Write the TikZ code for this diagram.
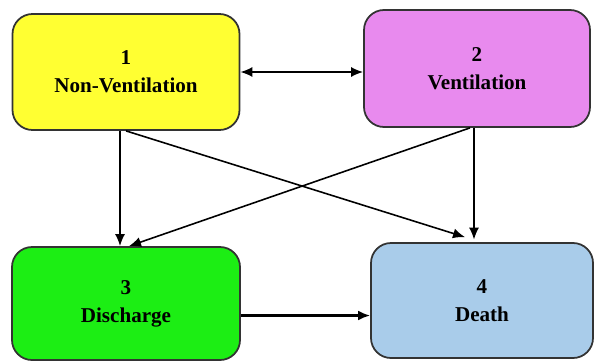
\documentclass[tikz,border=0pt]{standalone}
\usepackage{fontspec}
\setmainfont{Liberation Serif}
\usetikzlibrary{arrows.meta,calc}
\definecolor{boxyellow}{RGB}{255,255,50}
\definecolor{boxpink}{RGB}{232,138,238}
\definecolor{boxgreen}{RGB}{28,238,20}
\definecolor{boxblue}{RGB}{169,204,234}
\tikzset{
    statebox/.style={draw=black!80, line width=1pt, rounded corners=0.4cm, align=center,
        font=\fontsize{12}{16}\selectfont\bfseries, inner sep=0pt},
    flow/.style={line width=0.9pt, -{Latex[length=2.4mm,width=2mm]}},
}
\begin{document}
\begin{tikzpicture}
    \useasboundingbox (0,0) rectangle (11.9,-7.24);

        \node[statebox, fill=boxyellow, minimum width=4.54cm, minimum height=2.32cm] (nv) at (2.52,-1.44) {1\\Non-Ventilation};
        \node[statebox, fill=boxpink, minimum width=4.52cm, minimum height=2.34cm] (v) at (9.54,-1.37) {2\\Ventilation};
        \node[statebox, fill=boxgreen, minimum width=4.56cm, minimum height=2.26cm] (dis) at (2.52,-6.07) {3\\Discharge};
        \node[statebox, fill=boxblue, minimum width=4.44cm, minimum height=2.30cm] (dth) at (9.64,-6.01) {4\\Death};

        \draw[flow, {Latex[length=2.4mm,width=2mm]}-{Latex[length=2.4mm,width=2mm]}] (nv.east) -- (nv.east -| v.west);
        \draw[flow] ([xshift=-1.2mm]nv.south) -- ([xshift=-1.2mm]nv.south |- dis.north);
        \draw[flow] (nv.south) -- ([xshift=-3.4mm,yshift=1mm]dth.north);
        \draw[flow] ([xshift=-1.4mm]v.south) -- ([xshift=0.6mm]dis.north);
        \draw[flow] ([xshift=-1.6mm]dth.north |- v.south) -- ([xshift=-1.6mm,yshift=0.5mm]dth.north);
        \draw[flow, line width=1.3pt] ([yshift=-2.4mm]dis.east) -- ([yshift=-2.4mm]dis.east -| dth.west);
%        \draw[flow] (dis) -- (dth);

    \end{tikzpicture}
\end{document}
